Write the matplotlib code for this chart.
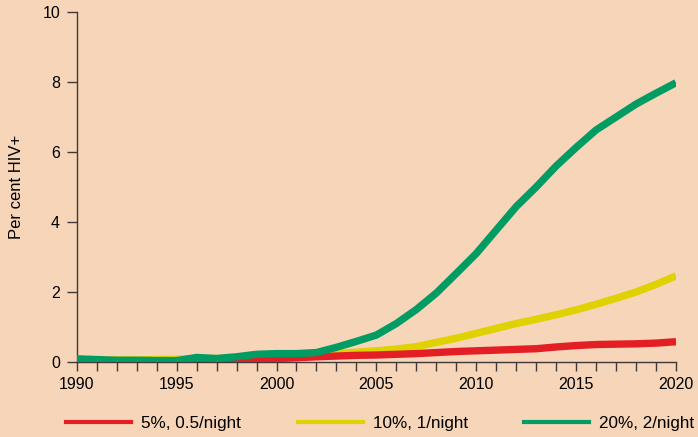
import matplotlib.pyplot as plt
from matplotlib.lines import Line2D
from matplotlib.ticker import MultipleLocator

plt.rcParams['font.family'] = ['Liberation Sans', 'DejaVu Sans']

# Datos
years = [1990, 1991, 1992, 1993, 1994, 1995, 1996, 1997, 1998, 1999, 2000,
         2001, 2002, 2003, 2004, 2005, 2006, 2007, 2008, 2009, 2010,
         2011, 2012, 2013, 2014, 2015, 2016, 2017, 2018, 2019, 2020]

red = [0.05, 0.04, 0.03, 0.03, 0.02, 0.02, 0.02, 0.04, 0.06, 0.08, 0.1,
       0.12, 0.15, 0.17, 0.19, 0.2, 0.22, 0.24, 0.27, 0.3, 0.32,
       0.34, 0.36, 0.38, 0.43, 0.47, 0.5, 0.51, 0.52, 0.54, 0.58]

yellow = [0.06, 0.06, 0.06, 0.06, 0.07, 0.08, 0.09, 0.1, 0.11, 0.13, 0.15,
          0.17, 0.2, 0.24, 0.28, 0.32, 0.37, 0.44, 0.56, 0.68, 0.82,
          0.96, 1.1, 1.22, 1.35, 1.49, 1.65, 1.82, 2.0, 2.22, 2.46]

green = [0.09, 0.07, 0.05, 0.05, 0.04, 0.04, 0.13, 0.1, 0.15, 0.22, 0.24,
         0.24, 0.27, 0.42, 0.59, 0.77, 1.1, 1.5, 1.97, 2.53, 3.1,
         3.77, 4.44, 5.0, 5.6, 6.13, 6.63, 7.0, 7.37, 7.68, 7.98]

labels = ['5%, 0.5/night', '10%, 1/night', '20%, 2/night']

bg = '#F6D5B8'
c_red = '#E31E24'
c_yel = '#DFD200'
c_grn = '#009C63'
c_axis = '#3f3a38'


def draw_plot():
    fig = plt.figure(figsize=(6.98, 4.37), dpi=100, facecolor=bg)
    ax = fig.add_axes([0.110, 0.1716, 0.8585, 0.8009])
    ax.set_facecolor(bg)

    # orden: amarillo, rojo, verde encima
    estilo = dict(lw=5.3, solid_capstyle='butt', solid_joinstyle='round')
    ax.plot(years, yellow, color=c_yel, zorder=2, **estilo)
    ax.plot(years, red, color=c_red, zorder=3, **estilo)
    ax.plot(years, green, color=c_grn, zorder=4, **estilo)

    ax.set_xlim(1990, 2020)
    ax.set_ylim(0, 10)
    ax.xaxis.set_major_locator(MultipleLocator(5))
    ax.xaxis.set_minor_locator(MultipleLocator(1))
    ax.yaxis.set_major_locator(MultipleLocator(2))

    for s in ['top', 'right']:
        ax.spines[s].set_visible(False)
    for s in ['left', 'bottom']:
        ax.spines[s].set_color(c_axis)
        ax.spines[s].set_linewidth(1.0)

    ax.tick_params(axis='x', which='both', direction='out', length=6.5,
                   width=1.0, color=c_axis, labelsize=11.5, pad=4)
    ax.tick_params(axis='y', which='major', direction='out', length=7,
                   width=1.0, color=c_axis, labelsize=11.5, pad=5)
    ax.set_ylabel('Per cent HIV+', fontsize=12, labelpad=13)

    # Leyenda abajo
    handles = [Line2D([], [], color=c, lw=3) for c in (c_red, c_yel, c_grn)]
    fig.legend(handles, labels, loc='center', bbox_to_anchor=(0.545, 0.03),
               ncol=3, frameon=False, fontsize=12.3, handlelength=3.8,
               handletextpad=0.6, columnspacing=3.3)

    fig.savefig('out.png', dpi=100, facecolor=bg)
    return fig


if __name__ == "__main__":
    draw_plot()
